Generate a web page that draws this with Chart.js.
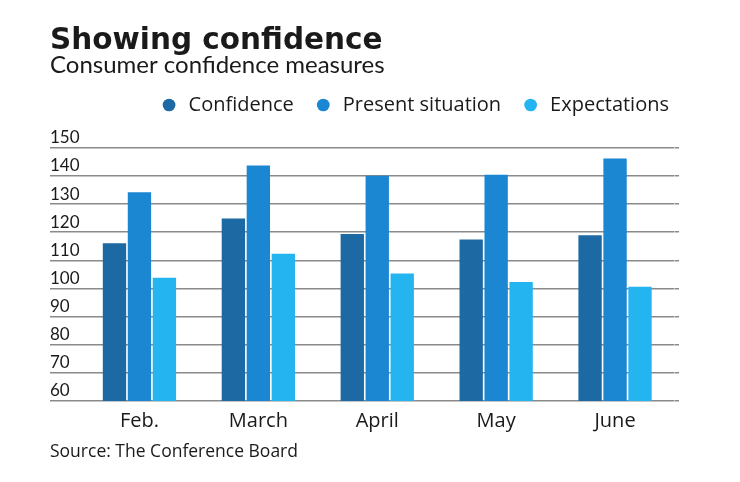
<!DOCTYPE html>
<html>
<head>
<meta charset="utf-8">
<script src="https://cdn.jsdelivr.net/npm/chart.js@4.4.0/dist/chart.umd.min.js"></script>
<style>
  html, body { margin: 0; padding: 0; background: #fff; }
  #wrap { position: relative; width: 740px; height: 482px; }
  #source { position: absolute; left: 50px; top: 439px; font: 17.5px "Open Sans", sans-serif; line-height: 22px; color: #1a1a1a; }
</style>
</head>
<body>
<div id="wrap">
  <canvas id="chart" width="740" height="482"></canvas>
  <div id="source">Source: The Conference Board</div>
</div>
<script>
let months = ["Feb.", "March", "April", "May", "June"];
let confidence = [116.1, 124.9, 119.4, 117.4, 118.9];
let present_situation = [134.2, 143.7, 140.1, 140.4, 146.2];
let expectations = [103.8, 112.3, 105.3, 102.3, 100.6];
let y_min = 60;
let y_max = 150;
let y_step = 10;

let text_color = "#1a1a1a";
let grid_color = "#8a8a8a";

let config = {
  type: "bar",
  data: {
    labels: months,
    datasets: [
      { label: "Confidence", data: confidence, backgroundColor: "#1c69a3" },
      { label: "Present situation", data: present_situation, backgroundColor: "#1b86d2" },
      { label: "Expectations", data: expectations, backgroundColor: "#24b5f1" },
    ],
  },
  options: {
    responsive: false,
    animation: false,
    categoryPercentage: 0.63,
    barPercentage: 0.935,
    layout: { padding: { left: 50, right: 51, top: 24, bottom: 49 } },
    plugins: {
      title: {
        display: true,
        text: "Showing confidence",
        align: "start",
        color: text_color,
        font: { family: "'DejaVu Sans', sans-serif", size: 29.5, weight: "bold", lineHeight: 1 },
        padding: { top: 2.5, bottom: 0 },
      },
      subtitle: {
        display: true,
        text: "Consumer confidence measures",
        align: "start",
        color: text_color,
        font: { family: "Lato, sans-serif", size: 24, lineHeight: 1 },
        padding: { top: -2.5, bottom: -2.5 },
      },
      legend: {
        position: "top",
        align: "end",
        labels: {
          usePointStyle: true,
          pointStyle: "circle",
          boxWidth: 19,
          boxHeight: 9,
          padding: 20,
          color: text_color,
          font: { family: "'Open Sans', sans-serif", size: 20 },
        },
      },
      tooltip: { enabled: false },
    },
    scales: {
      x: {
        grid: { display: false },
        border: { display: false },
        ticks: { padding: 0, color: text_color, font: { family: "'Open Sans', sans-serif", size: 20 } },
      },
      // empty top axis only keeps the gap between legend and plot
      x_gap: {
        position: "top",
        grid: { display: false },
        border: { display: false },
        ticks: { display: false },
        afterFit: (scale) => { scale.height = 22.8; },
      },
      y: {
        min: y_min,
        max: y_max,
        ticks: {
          stepSize: y_step,
          crossAlign: "far",
          labelOffset: -10,
          padding: 0,
          color: text_color,
          font: { family: "Lato, sans-serif", size: 17 },
        },
        grid: { color: grid_color, lineWidth: 1.5, tickLength: 30 },
        border: { display: false },
        afterFit: (scale) => { scale.width = 30; },
      },
      // right stub so the grid lines run a bit past the last bar group
      y_edge: {
        position: "right",
        min: y_min,
        max: y_max,
        ticks: { display: false, stepSize: y_step },
        grid: { drawOnChartArea: false, color: grid_color, lineWidth: 1.5, tickLength: 4.5 },
        border: { display: false },
        afterFit: (scale) => { scale.width = 14.5; },
      },
    },
  },
};

let chart = new Chart(document.getElementById("chart"), config);
</script>
</body>
</html>
